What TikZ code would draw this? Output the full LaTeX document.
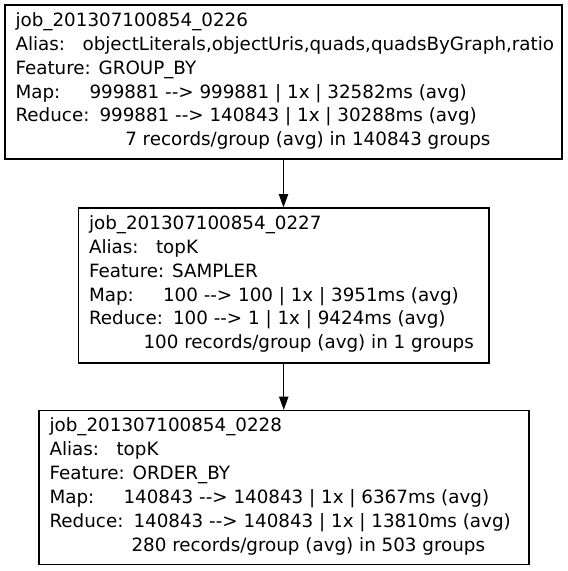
\documentclass[tikz,border=0pt]{standalone}
\usepackage{fontspec}
\setmainfont{DejaVu Sans}[Ligatures=TeXOff]
\usetikzlibrary{calc,arrows.meta}

\tikzset{
  x=1pt, y=1pt,
  jobbox/.style={draw=black, line width=1.3pt, rectangle, inner sep=0pt},
  jobtxt/.style={anchor=base west, inner sep=0pt,
    font=\fontsize{18.3}{22}\selectfont},
  conn/.style={draw=black, line width=1.3pt,
    -{Triangle[length=13.3pt,width=9.3pt]}},
}

% #1 box, #2 job id, #3 alias, #4 feature, #5 map stats, #6 reduce stats,
% #7 indent of the summary line, #8 summary line
\newcommand\jobtext[8]{%
  \node[jobtxt] (#1-id)  at ($(#1.north west)+(11,-22)$)    {#2};
  \node[jobtxt] (#1-al)  at ($(#1.north west)+(11,-45.9)$)  {Alias:};
  \node[jobtxt] (#1-alv) at ($(#1.north west)+(78,-45.9)$)  {#3};
  \node[jobtxt] (#1-ft)  at ($(#1.north west)+(11,-69.8)$)  {Feature: #4};
  \node[jobtxt] (#1-mp)  at ($(#1.north west)+(11,-93.7)$)  {Map:};
  \node[jobtxt] (#1-mpv) at ($(#1.north west)+(85,-93.7)$)  {#5};
  \node[jobtxt] (#1-rd)  at ($(#1.north west)+(11,-117.6)$) {Reduce:};
  \node[jobtxt] (#1-rdv) at ($(#1.north west)+(95,-117.6)$) {#6};
  \node[jobtxt] (#1-sm)  at ($(#1.north west)+(#7,-141.5)$) {#8};
}

\begin{document}
\begin{tikzpicture}
  \useasboundingbox[fill=white] (0,0) rectangle (568,-571);

  \node[jobbox, minimum width=557pt, minimum height=154pt] (j1) at (283.5,-82) {};
  \node[jobbox, minimum width=410.5pt, minimum height=155pt] (j2) at (283.75,-285.5) {};
  \node[jobbox, minimum width=490pt, minimum height=154pt] (j3) at (284,-487.5) {};

  \jobtext{j1}{job\_201307100854\_0226}
    {objectLiterals,objectUris,quads,quadsByGraph,ratio}{GROUP\_BY}
    {999881 --> 999881 | 1x | 32582ms (avg)}
    {999881 --> 140843 | 1x | 30288ms (avg)}
    {120.7}{7 records/group (avg) in 140843 groups}

  \jobtext{j2}{job\_201307100854\_0227}
    {topK}{SAMPLER}
    {100 --> 100 | 1x | 3951ms (avg)}
    {100 --> 1 | 1x | 9424ms (avg)}
    {65.5}{100 records/group (avg) in 1 groups}

  \jobtext{j3}{job\_201307100854\_0228}
    {topK}{ORDER\_BY}
    {140843 --> 140843 | 1x | 6367ms (avg)}
    {140843 --> 140843 | 1x | 13810ms (avg)}
    {93}{280 records/group (avg) in 503 groups}

  \draw[conn] (j1.south) -- (j1.south |- j2.north);
  \draw[conn] (j2.south) -- (j2.south |- j3.north);
\end{tikzpicture}
\end{document}
